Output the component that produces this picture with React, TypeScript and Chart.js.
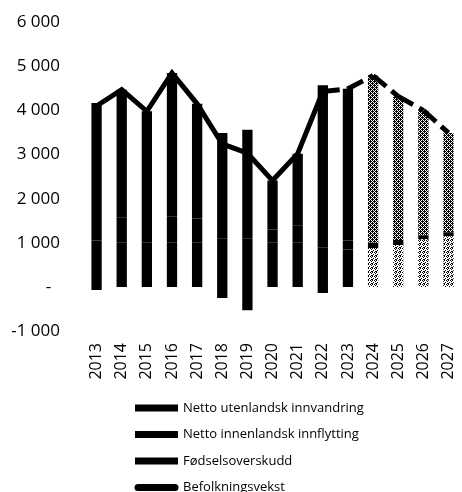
import React, { useEffect, useRef } from 'react';
import { Chart, registerables } from 'chart.js';

Chart.register(...registerables);

// ---- Data ----
const years = ['2013', '2014', '2015', '2016', '2017', '2018', '2019', '2020', '2021', '2022', '2023', '2024', '2025', '2026', '2027'];
const fodselsoverskudd = [1050, 1010, 1000, 1000, 1000, 1100, 1100, 1000, 1000, 900, 850, 880, 950, 1080, 1150];
const nettoInnenlandsk = [-70, 570, 560, 600, 550, -250, -530, 300, 400, -140, 200, 120, 110, 90, 90];
const nettoUtenlandsk = [3120, 2890, 2420, 3250, 2600, 2390, 2460, 1110, 1620, 3670, 3440, 3790, 3260, 2830, 2250];
const befolkningsvekst = [4100, 4470, 3980, 4850, 4150, 3240, 3030, 2410, 3020, 4430, 4490, 4790, 4320, 4000, 3490];

const seriesLabels = {
  utenlandsk: 'Netto utenlandsk innvandring',
  innenlandsk: 'Netto innenlandsk innflytting',
  fodsel: 'Fødselsoverskudd',
  vekst: 'Befolkningsvekst',
};

const firstProjectionIndex = 11; // 2024
const firstDashedIndex = 9; // line dashed from 2022 onwards
const yMin = -1000;
const yMax = 6000;
const yStep = 1000;

const FONT = '"Open Sans", "Noto Sans", sans-serif';
const CANVAS_SHIFT = 12; // canvas is moved up by this many pixels

function makePattern(rows: string[]): CanvasPattern {
  const c = document.createElement('canvas');
  c.width = rows[0].length;
  c.height = rows.length;
  const g = c.getContext('2d')!;
  g.fillStyle = '#ffffff';
  g.fillRect(0, 0, c.width, c.height);
  g.fillStyle = '#000000';
  rows.forEach((r, y) => {
    for (let x = 0; x < r.length; x++) if (r[x] === '#') g.fillRect(x, y, 1, 1);
  });
  const ctx = document.createElement('canvas').getContext('2d')!;
  return ctx.createPattern(c, 'repeat')!;
}

function formatTick(v: number): string {
  if (v === 0) return '-  ';
  const s = Math.abs(v).toString().replace(/\B(?=(\d{3})+(?!\d))/g, ' ');
  return (v < 0 ? '-' : '') + s;
}

export default function App() {
  const ref = useRef<HTMLCanvasElement | null>(null);

  useEffect(() => {
    if (!ref.current) return;
    const dark = makePattern(['#.#.', '.###', '#.#.', '##.#']);
    const light = makePattern(['#.#.', '...#', '.#..', '#..#']);

    const colorsFor = (proj: string | CanvasPattern) =>
      years.map((_, i) => (i >= firstProjectionIndex ? proj : '#000000'));

    const legendOrder = [2, 1, 0, 3];

    const legendPlugin = {
      id: 'verticalLegend',
      afterDraw(chart: any) {
        const ctx: CanvasRenderingContext2D = chart.ctx;
        const boxLeft = 135;
        const boxWidth = 43;
        const textLeft = 183;
        const rowTop = 408 + CANVAS_SHIFT;
        const rowGap = 26.5;
        ctx.save();
        ctx.font = `13px ${FONT}`;
        ctx.textBaseline = 'middle';
        ctx.textAlign = 'left';
        legendOrder.forEach((di, i) => {
          const ds = chart.data.datasets[di];
          const y = rowTop + i * rowGap;
          ctx.fillStyle = '#000';
          ctx.strokeStyle = '#000';
          if (ds.type === 'line') {
            ctx.lineWidth = 7;
            ctx.lineCap = 'round';
            ctx.beginPath();
            ctx.moveTo(boxLeft + 3, y);
            ctx.lineTo(boxLeft + boxWidth - 3, y);
            ctx.stroke();
          } else {
            ctx.fillRect(boxLeft, y - 3.5, boxWidth, 7);
          }
          ctx.fillText(ds.label, textLeft, y);
        });
        ctx.restore();
      },
    };

    const barCommon = {
      type: 'bar',
      borderWidth: 0,
      stack: 'bars',
      order: 1,
      categoryPercentage: 1,
      barPercentage: 0.41,
    };

    const chart = new Chart(ref.current, {
      type: 'bar',
      data: {
        labels: years,
        datasets: [
          {
            ...barCommon,
            label: seriesLabels.fodsel,
            data: fodselsoverskudd,
            backgroundColor: colorsFor(light),
          } as any,
          {
            ...barCommon,
            label: seriesLabels.innenlandsk,
            data: nettoInnenlandsk,
            backgroundColor: colorsFor('#000000'),
          } as any,
          {
            ...barCommon,
            label: seriesLabels.utenlandsk,
            data: nettoUtenlandsk,
            backgroundColor: colorsFor(dark),
          } as any,
          {
            type: 'line',
            label: seriesLabels.vekst,
            data: befolkningsvekst,
            borderColor: '#000000',
            backgroundColor: '#000000',
            borderWidth: 5,
            pointRadius: 0,
            tension: 0,
            fill: false,
            stack: 'line',
            order: 0,
            segment: {
              borderDash: (ctx: any) => (ctx.p0DataIndex >= firstDashedIndex ? [17, 7] : undefined),
              borderDashOffset: (ctx: any) =>
                ctx.p0DataIndex >= firstDashedIndex ? ctx.p0DataIndex * 0.001 : undefined,
            },
          } as any,
        ],
      },
      options: {
        responsive: false,
        animation: false,
        devicePixelRatio: 1,
        layout: { padding: { top: 9, right: 9, bottom: 0, left: 0 } },
        plugins: {
          legend: { display: false },
          tooltip: { enabled: false },
        },
        scales: {
          x: {
            stacked: true,
            grid: { display: false, drawTicks: false },
            border: { display: false },
            ticks: {
              autoSkip: false,
              minRotation: 90,
              maxRotation: 90,
              padding: 12,
              color: '#000',
              font: { family: FONT, size: 16 },
            },
            afterFit: (scale: any) => {
              scale.height = 161;
            },
          } as any,
          y: {
            stacked: true,
            min: yMin,
            max: yMax,
            grid: { display: false, drawTicks: false },
            border: { display: false },
            ticks: {
              stepSize: yStep,
              padding: 24,
              color: '#000',
              font: { family: FONT, size: 17 },
              callback: (v: any) => formatTick(Number(v)),
            },
            afterFit: (scale: any) => {
              scale.width = 84;
            },
          } as any,
        },
      },
      plugins: [legendPlugin],
    });

    return () => chart.destroy();
  }, []);

  return (
    <div
      style={{
        position: 'fixed',
        left: 0,
        top: 0,
        width: 462,
        height: 492,
        overflow: 'hidden',
        background: '#ffffff',
      }}
    >
      <canvas
        ref={ref}
        width={480}
        height={492 + CANVAS_SHIFT}
        style={{ display: 'block', width: 480, height: 492 + CANVAS_SHIFT, marginTop: -CANVAS_SHIFT }}
      />
    </div>
  );
}
